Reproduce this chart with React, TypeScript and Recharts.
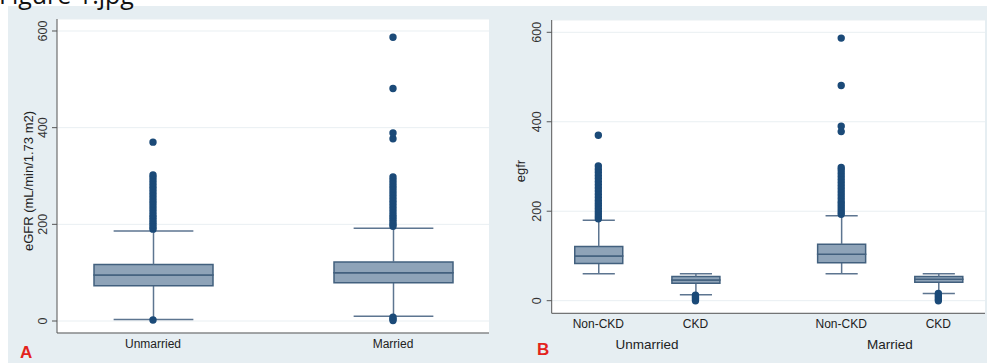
import React from 'react'
import { ComposedChart, Bar, Scatter, XAxis, YAxis, ZAxis, CartesianGrid } from 'recharts'

// Panel A: eGFR by marital status
const catsA = ['Unmarried', 'Married']
const posA = [1, 2]
const loWhiskA = [3, 10]
const q1A = [73, 79]
const medA = [95, 100]
const q3A = [117, 122]
const hiWhiskA = [186, 192]
const outliersA = [
  [2, 190, 194, 199, 204, 209, 214, 219, 225, 231, 237, 243, 249, 255, 261, 267, 273, 279, 285, 291, 297, 302, 370],
  [1, 4, 8, 196, 200, 205, 210, 215, 220, 226, 232, 238, 244, 250, 256, 262, 268, 274, 280, 286, 292, 298, 377, 389, 481, 587],
]

// Panel B: eGFR by CKD status within marital status
const catsB = ['Non-CKD', 'CKD', 'Non-CKD', 'CKD']
const posB = [1, 2, 3.5, 4.5]
const groupsB = ['Unmarried', 'Married']
const groupPosB = [1.5, 4]
const loWhiskB = [60, 13, 60, 16]
const q1B = [83, 39, 85, 41]
const medB = [100, 46, 104, 48]
const q3B = [121, 54, 126, 54]
const hiWhiskB = [180, 60, 190, 60]
const outliersB = [
  [183, 188, 194, 200, 206, 212, 218, 224, 231, 238, 245, 252, 259, 266, 273, 280, 287, 294, 301, 370],
  [0, 3, 6, 9, 12],
  [193, 198, 204, 210, 216, 222, 229, 236, 243, 250, 257, 264, 271, 278, 285, 292, 298, 378, 390, 481, 587],
  [0, 4, 8, 12, 16],
]

const yTicks = [0, 200, 400, 600]

const FONT = '"Liberation Sans", Arial, sans-serif'
const BG = '#e6eef2'
const BOX = '#8ea3b8'
const BOX_LINE = '#42607e'
const WHISKER = '#5d7590'
const DOT = '#1b4a78'
const AXIS = '#555'

function boxRows(pos: number[], lo: number[], q1: number[], med: number[], q3: number[], hi: number[]) {
  return pos.map((x, i) => ({
    x,
    base: lo[i],
    wLow: q1[i] - lo[i],
    boxLow: med[i] - q1[i],
    boxHigh: q3[i] - med[i],
    wHigh: hi[i] - q3[i],
  }))
}

function dots(pos: number[], out: number[][]) {
  return pos.flatMap((x, i) => out[i].map((y) => ({ x, y })))
}

const Whisker = (props: any) => {
  const { x, y, width, height, side } = props
  const cx = x + width / 2
  const cap = width * 0.335
  const capY = side === 'top' ? y : y + height
  return (
    <g stroke={WHISKER} strokeWidth={1.5}>
      <line x1={cx} x2={cx} y1={y} y2={y + height} />
      <line x1={cx - cap} x2={cx + cap} y1={capY} y2={capY} />
    </g>
  )
}

const YTick = (props: any) => {
  const { x, y, payload } = props
  return (
    <text transform={`translate(${x - 3.5},${y}) rotate(-90)`} textAnchor="middle"
          fontSize={12.5} fill="#333" fontFamily={FONT}>
      {payload.value}
    </text>
  )
}

const makeXTick = (labels: string[], ticks: number[], dy: number, size: number) => (props: any) => {
  const { x, y, payload } = props
  const i = ticks.indexOf(payload.value)
  return (
    <text x={x} y={y + dy} textAnchor="middle" fontSize={size} fill="#222" fontFamily={FONT}>
      {labels[i]}
    </text>
  )
}

export default function App() {
  const rowsA = boxRows(posA, loWhiskA, q1A, medA, q3A, hiWhiskA)
  const rowsB = boxRows(posB, loWhiskB, q1B, medB, q3B, hiWhiskB)
  const dotsA = dots(posA, outliersA)
  const dotsB = dots(posB, outliersB)

  const bars = (size: number) => [
    <Bar key="base" dataKey="base" stackId="b" barSize={size} fill="none" isAnimationActive={false} />,
    <Bar key="wl" dataKey="wLow" stackId="b" barSize={size} isAnimationActive={false}
         shape={(p: any) => <Whisker {...p} side="bottom" />} />,
    <Bar key="bl" dataKey="boxLow" stackId="b" barSize={size} fill={BOX} stroke={BOX_LINE}
         strokeWidth={1.5} isAnimationActive={false} />,
    <Bar key="bh" dataKey="boxHigh" stackId="b" barSize={size} fill={BOX} stroke={BOX_LINE}
         strokeWidth={1.5} isAnimationActive={false} />,
    <Bar key="wh" dataKey="wHigh" stackId="b" barSize={size} isAnimationActive={false}
         shape={(p: any) => <Whisker {...p} side="top" />} />,
  ]

  return (
    <div style={{ position: 'absolute', left: 0, top: 0, width: 987, height: 363, background: '#fff', overflow: 'hidden' }}>
      <div style={{ position: 'absolute', left: 8, top: 6, width: 979, height: 357, background: BG }} />

      <div style={{ position: 'absolute', left: 0, top: 0 }}>
        <ComposedChart width={492} height={363} data={rowsA}
                       margin={{ top: 19, right: 3, bottom: 0, left: 8 }}>
          <CartesianGrid vertical={false} fill="#fff" stroke="#e9eff2" />
          <XAxis type="number" dataKey="x" domain={[0.6, 2.4]} ticks={posA} interval={0}
                 height={30} tickSize={0} tickMargin={0} tickLine={false} allowDataOverflow
                 axisLine={{ stroke: AXIS }} tick={makeXTick(catsA, posA, 15.3, 12)} />
          <YAxis type="number" domain={[-24.8, 624.8]} ticks={yTicks} interval={0} width={49}
                 tickSize={5} tickMargin={2} allowDataOverflow
                 axisLine={{ stroke: AXIS }} tickLine={{ stroke: AXIS }} tick={<YTick />} />
          <ZAxis range={[43, 43]} />
          {bars(119)}
          <Scatter data={dotsA} dataKey="y" fill={DOT} isAnimationActive={false} />
        </ComposedChart>
      </div>

      <div style={{ position: 'absolute', left: 495, top: 0 }}>
        <ComposedChart width={492} height={363} data={rowsB}
                       margin={{ top: 20, right: 2, bottom: 0, left: 8 }}>
          <CartesianGrid vertical={false} fill="#fff" stroke="#e9eff2" />
          <XAxis type="number" dataKey="x" domain={[0.52, 4.98]} ticks={posB} interval={0}
                 height={20} tickSize={0} tickMargin={0} tickLine={false} allowDataOverflow
                 axisLine={{ stroke: AXIS }} tick={makeXTick(catsB, posB, 15, 12)} />
          <XAxis xAxisId="grp" type="number" dataKey="x" domain={[0.52, 4.98]} ticks={groupPosB}
                 interval={0} allowDataOverflow
                 height={29.7} tickSize={0} tickMargin={0} tickLine={false} axisLine={false}
                 tick={makeXTick(groupsB, groupPosB, 15.5, 13.5)} />
          <YAxis type="number" domain={[-28.2, 627.5]} ticks={yTicks} interval={0} width={48.7}
                 tickSize={5} tickMargin={2} allowDataOverflow
                 axisLine={{ stroke: AXIS }} tickLine={{ stroke: AXIS }} tick={<YTick />} />
          <ZAxis range={[43, 43]} />
          {bars(48)}
          <Scatter data={dotsB} dataKey="y" fill={DOT} isAnimationActive={false} />
        </ComposedChart>
      </div>

      <svg width={987} height={363} style={{ position: 'absolute', left: 0, top: 0, pointerEvents: 'none' }}>
        <text x={-1} y={4} fontSize={25} fill="#111" fontFamily='"Open Sans", sans-serif'>Figure 1.jpg</text>
        <text transform="translate(33,181) rotate(-90)" textAnchor="middle" fontSize={13}
              fill="#222" fontFamily={FONT}>eGFR (mL/min/1.73 m2)</text>
        <text transform="translate(525,171) rotate(-90)" textAnchor="middle" fontSize={13}
              fill="#222" fontFamily={FONT}>egfr</text>
        <text x={20} y={358} fontSize={17} fontWeight="bold" fill="#e3231c" fontFamily={FONT}>A</text>
        <text x={537} y={355} fontSize={17} fontWeight="bold" fill="#e3231c" fontFamily={FONT}>B</text>
      </svg>
    </div>
  )
}
